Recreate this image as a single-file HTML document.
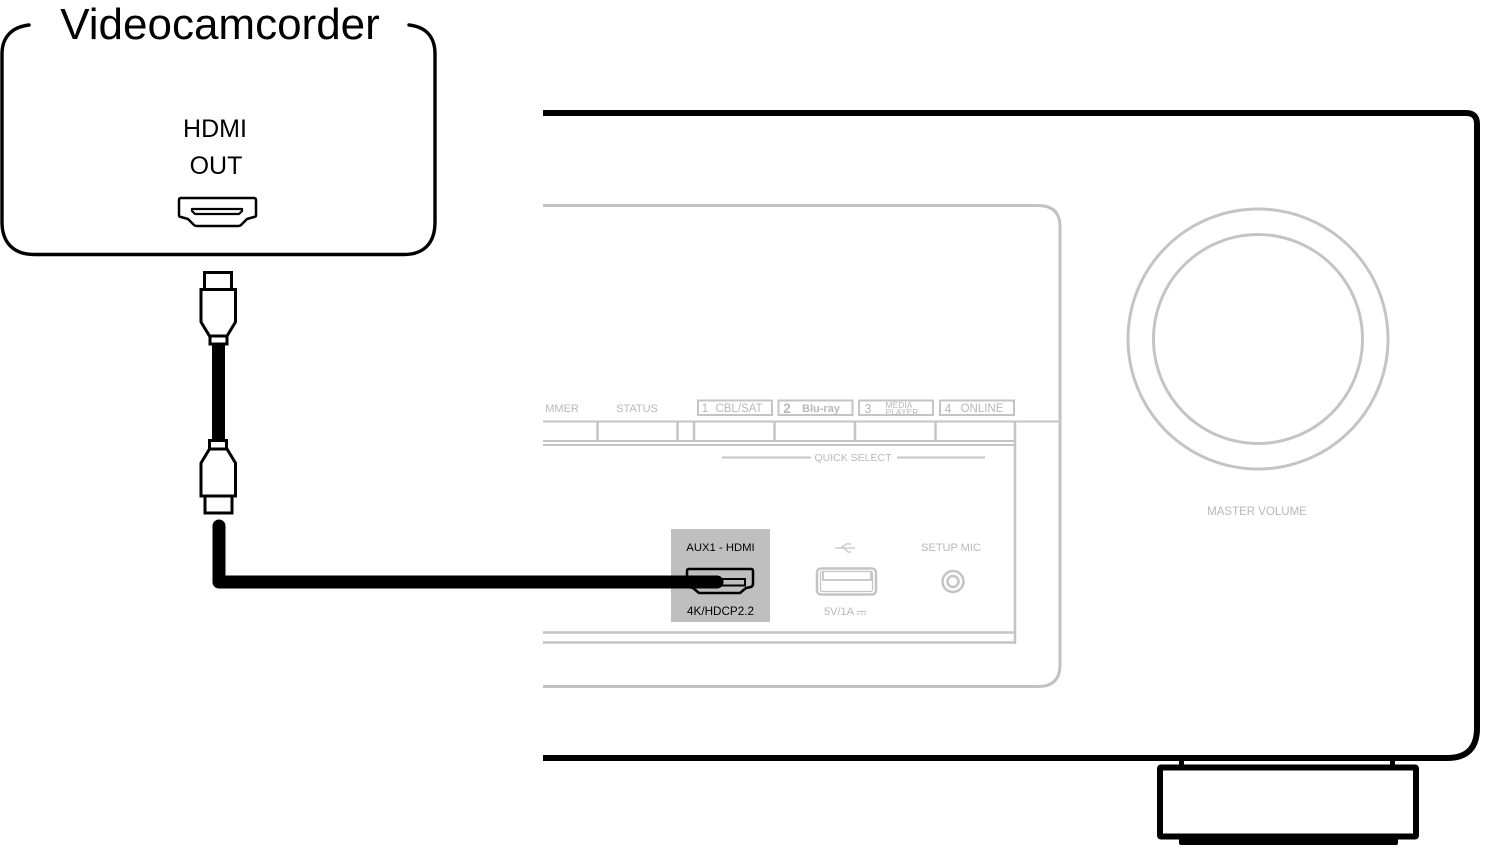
<!DOCTYPE html>
<html><head><meta charset="utf-8"><style>
html,body{margin:0;padding:0;background:#fff;width:1500px;height:864px;overflow:hidden}
svg{display:block}
text{font-family:"Liberation Sans",sans-serif}
.g{fill:#b8b8b8}
</style></head><body>
<svg width="1500" height="864" viewBox="0 0 1500 864" xmlns="http://www.w3.org/2000/svg">
<rect width="1500" height="864" fill="#fff"/>
<!-- Camcorder box -->
<path d="M29 25 C11 27 2 38 2 54 V222 C2 243 14 254.500 34 254.500 H404 C424 254.500 435 243 435 222 V54 C435 38 427 27 409 25" fill="none" stroke="#000" stroke-width="3.400" stroke-linecap="round"/>
<text x="220" y="39" font-size="44" text-anchor="middle">Videocamcorder</text>
<text x="215" y="137" font-size="25" text-anchor="middle">HDMI</text>
<text x="216" y="174" font-size="25" text-anchor="middle">OUT</text>
<path d="M181 198 H254 Q256 198 256 200 V215 Q256 217 254 217 L247 219 L241 225 Q240 226 238 226 H197 Q195 226 194 225 L188 219 L181 217 Q179 217 179 215 V200 Q179 198 181 198 Z" fill="#fff" stroke="#000" stroke-width="2.500" stroke-linejoin="round"/>
<path d="M192 209 H242 V211 L239 214 H195 L192 211 Z" fill="#fff" stroke="#000" stroke-width="2.200" stroke-linejoin="round"/>
<!-- Receiver body -->
<path d="M543 113 H1466 Q1477 113 1477 124 V728 Q1477 758 1447 758 H543" fill="none" stroke="#000" stroke-width="6"/>
<path d="M543 205.500 H1038 Q1060 205.500 1060 227 V665 Q1060 686.500 1038 686.500 H543" fill="none" stroke="#c2c2c2" stroke-width="3"/>
<circle cx="1258" cy="339" r="130" fill="none" stroke="#c4c4c4" stroke-width="3"/>
<circle cx="1258" cy="339" r="104.500" fill="none" stroke="#c4c4c4" stroke-width="3"/>
<text x="1257" y="515" font-size="11.500" text-anchor="middle" class="g">MASTER VOLUME</text>
<!-- Panel lines -->
<g fill="none" stroke="#c4c4c4">
<path d="M543 421.500 H1060" stroke-width="2"/>
<path d="M543 441 H1015 M543 445 H1015" stroke-width="2"/>
<path d="M1015 421 V644" stroke-width="2.500"/>
<path d="M543 632.500 H1015 M543 642.500 H1016" stroke-width="2.500"/>
<path d="M597.500 421 V441 M677.500 421 V441 M694 421 V441 M774.500 421 V441 M855 421 V441 M935.500 421 V441" stroke-width="2.500"/>
<rect x="698" y="400.500" width="74" height="14.500" stroke-width="2"/>
<rect x="778.500" y="400.500" width="74" height="14.500" stroke-width="2"/>
<rect x="859" y="400.500" width="74" height="14.500" stroke-width="2"/>
<rect x="940" y="400.500" width="74" height="14.500" stroke-width="2"/>
<path d="M722 457.500 H811 M897 457.500 H985" stroke-width="2"/>
</g>
<text x="562" y="412" font-size="11" text-anchor="middle" class="g">MMER</text>
<text x="637" y="412" font-size="11" text-anchor="middle" class="g">STATUS</text>
<text x="705" y="412" font-size="12" text-anchor="middle" class="g">1</text>
<text x="739" y="412" font-size="11.500" text-anchor="middle" class="g">CBL/SAT</text>
<text x="787" y="413" font-size="13.500" font-weight="bold" text-anchor="middle" class="g">2</text>
<text x="821" y="412" font-size="11" font-weight="bold" text-anchor="middle" class="g">Blu-ray</text>
<text x="868" y="413" font-size="12.500" text-anchor="middle" class="g">3</text>
<text x="899" y="408" font-size="8.500" text-anchor="middle" class="g">MEDIA</text>
<text x="902" y="415" font-size="8.500" text-anchor="middle" class="g">PLAYER</text>
<text x="948" y="413" font-size="12.500" text-anchor="middle" class="g">4</text>
<text x="982" y="412" font-size="11.500" text-anchor="middle" class="g">ONLINE</text>
<text x="853" y="461" font-size="10.500" text-anchor="middle" class="g">QUICK SELECT</text>
<!-- Highlight -->
<rect x="671" y="529" width="99" height="93" fill="#bfbfbf"/>
<text x="720.500" y="551" font-size="11.300" text-anchor="middle" fill="#000">AUX1 - HDMI</text>
<text x="720.500" y="615" font-size="11.700" text-anchor="middle" fill="#000">4K/HDCP2.2</text>
<path d="M689 569 H751 Q753 569 753 571 V584 Q753 586 751 587 L746 588 L740 593 H699 L693 588 L689 587 Q687 586 687 584 V571 Q687 569 689 569 Z" fill="none" stroke="#000" stroke-width="2.500" stroke-linejoin="round"/>
<rect x="722" y="579" width="23" height="6.500" fill="none" stroke="#000" stroke-width="2"/>
<!-- USB + mic -->
<path d="M835 548 H855 M841 548 L846 544 H851 M844 548 L848 552 H851" fill="none" stroke="#c4c4c4" stroke-width="1.300"/>
<text x="951" y="551" font-size="11" text-anchor="middle" class="g">SETUP MIC</text>
<rect x="817" y="568.500" width="59" height="26" rx="4" fill="none" stroke="#c4c4c4" stroke-width="2.500"/>
<rect x="820.500" y="571.500" width="52" height="20" rx="2" fill="none" stroke="#c4c4c4" stroke-width="1.200"/>
<path d="M823 572 V580 H871 V572" fill="none" stroke="#c4c4c4" stroke-width="1.800"/>
<text x="839" y="615" font-size="11" text-anchor="middle" class="g">5V/1A</text>
<path d="M857 611.500 H866" stroke="#c4c4c4" stroke-width="1.200"/>
<path d="M857 614 H866" stroke="#c4c4c4" stroke-width="1.200" stroke-dasharray="2 1.500"/>
<circle cx="953" cy="581.500" r="10.500" fill="none" stroke="#c4c4c4" stroke-width="2.500"/>
<circle cx="953" cy="581.500" r="5.500" fill="none" stroke="#c4c4c4" stroke-width="2.500"/>
<!-- Cable -->
<path d="M219 526 V582 H717" fill="none" stroke="#000" stroke-width="13" stroke-linecap="round" stroke-linejoin="round"/>
<rect x="212" y="344" width="13" height="96" fill="#000"/>
<!-- Plug top -->
<g fill="#fff" stroke="#000" stroke-width="3" stroke-linejoin="miter">
<rect x="204.500" y="272.500" width="27" height="17"/>
<path d="M201 289.500 H235.500 V322 L227 336 H209.500 L201 322 Z"/>
<rect x="210" y="336" width="17" height="8"/>
</g>
<!-- Plug bottom -->
<g fill="#fff" stroke="#000" stroke-width="3" stroke-linejoin="miter">
<rect x="205" y="496" width="27" height="17"/>
<path d="M201 496 H235.500 V463 L227 449 H209.500 L201 463 Z"/>
<rect x="209.500" y="440.500" width="17" height="8.500"/>
</g>
<!-- Foot -->
<rect x="1179" y="758" width="5" height="9" fill="#000"/>
<rect x="1390" y="758" width="5" height="9" fill="#000"/>
<rect x="1160" y="767.500" width="256" height="69" rx="1" fill="#fff" stroke="#000" stroke-width="6"/>
<path d="M1179 838 H1398 V843 Q1398 845 1396 845 H1181 Q1179 845 1179 843 Z" fill="#000"/>
</svg>
</body></html>
